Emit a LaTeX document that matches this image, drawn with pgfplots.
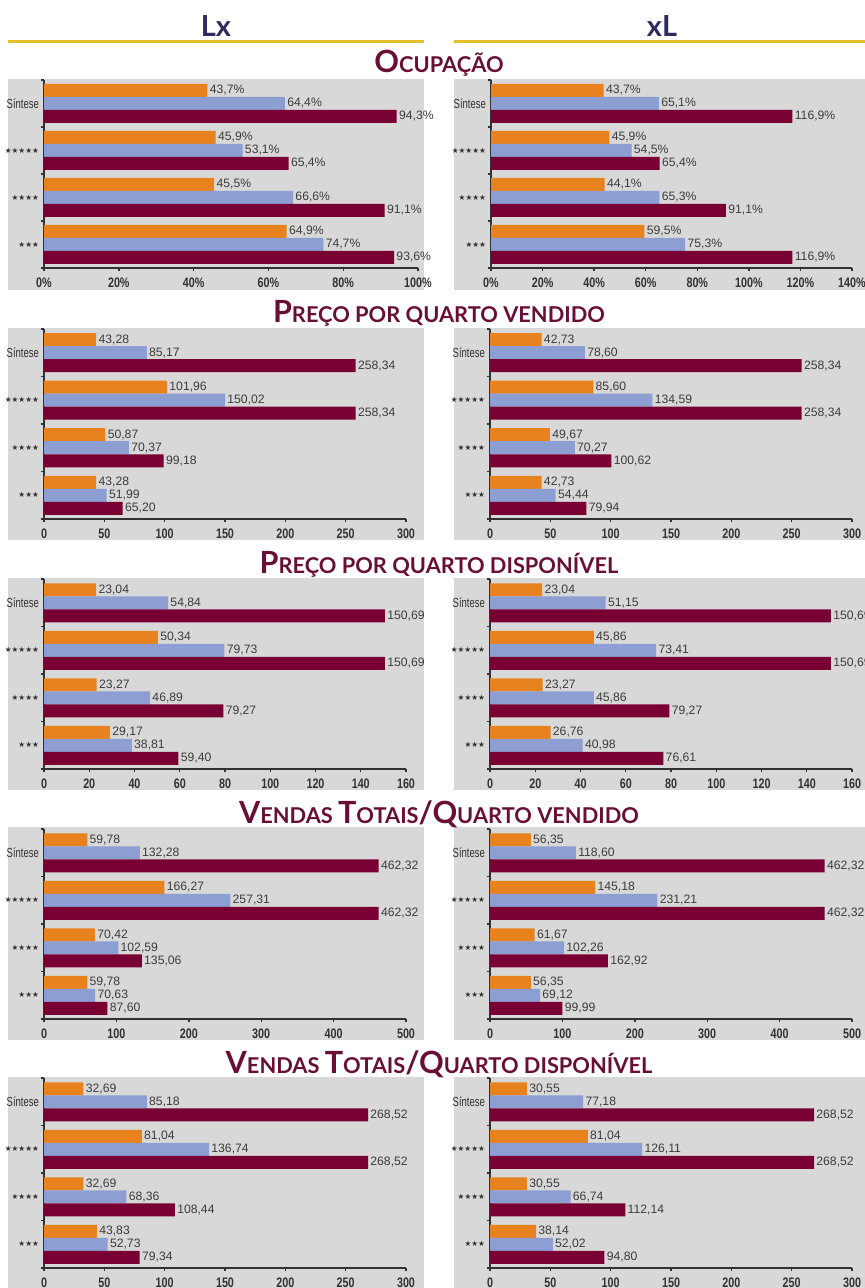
\documentclass[border=0pt]{standalone}
\usepackage{fontspec}
\setmainfont{Liberation Sans}
\newfontfamily\tickfnt[FakeStretch=0.78]{Liberation Sans Bold}
\newfontfamily\catfnt[FakeStretch=0.72]{Liberation Sans}
\newfontfamily\starfnt{DejaVu Sans}
\newfontfamily\titlefnt{Lato Bold}
\usepackage{pgfplots}
\usepackage{pgfplotstable}
\pgfplotsset{compat=1.18}

\definecolor{cOr}{RGB}{232,130,30}
\definecolor{cBl}{RGB}{140,158,210}
\definecolor{cMa}{RGB}{120,0,50}
\definecolor{bgc}{RGB}{216,216,216}
\definecolor{axc}{RGB}{50,50,50}
\definecolor{valc}{RGB}{60,60,60}
\definecolor{ttl}{RGB}{105,15,55}
\definecolor{hdr}{RGB}{45,43,95}
\definecolor{gold}{RGB}{226,190,40}

% c: 3 = Sintese, 2 = 5 estrelas, 1 = 4 estrelas, 0 = 3 estrelas
\pgfplotstableread{
c a b m
3 43.7 64.4 94.3
2 45.9 53.1 65.4
1 45.5 66.6 91.1
0 64.9 74.7 93.6
}\occLx
\pgfplotstableread{
c a b m
3 43.7 65.1 116.9
2 45.9 54.5 65.4
1 44.1 65.3 91.1
0 59.5 75.3 116.9
}\occxL
\pgfplotstableread{
c a b m
3 43.28 85.17 258.34
2 101.96 150.02 258.34
1 50.87 70.37 99.18
0 43.28 51.99 65.20
}\pvLx
\pgfplotstableread{
c a b m
3 42.73 78.60 258.34
2 85.60 134.59 258.34
1 49.67 70.27 100.62
0 42.73 54.44 79.94
}\pvxL
\pgfplotstableread{
c a b m
3 23.04 54.84 150.69
2 50.34 79.73 150.69
1 23.27 46.89 79.27
0 29.17 38.81 59.40
}\pdLx
\pgfplotstableread{
c a b m
3 23.04 51.15 150.69
2 45.86 73.41 150.69
1 23.27 45.86 79.27
0 26.76 40.98 76.61
}\pdxL
\pgfplotstableread{
c a b m
3 59.78 132.28 462.32
2 166.27 257.31 462.32
1 70.42 102.59 135.06
0 59.78 70.63 87.60
}\vvLx
\pgfplotstableread{
c a b m
3 56.35 118.60 462.32
2 145.18 231.21 462.32
1 61.67 102.26 162.92
0 56.35 69.12 99.99
}\vvxL
\pgfplotstableread{
c a b m
3 32.69 85.18 268.52
2 81.04 136.74 268.52
1 32.69 68.36 108.44
0 43.83 52.73 79.34
}\vdLx
\pgfplotstableread{
c a b m
3 30.55 77.18 268.52
2 81.04 126.11 268.52
1 30.55 66.74 112.14
0 38.14 52.02 94.80
}\vdxL

\newcommand{\bars}[1]{%
  \addplot[fill=cOr, draw=none, bar shift=6.5pt] table[x=a, y=c] {#1};
  \addplot[fill=cBl, draw=none, bar shift=0pt] table[x=b, y=c] {#1};
  \addplot[fill=cMa, draw=none, bar shift=-6.5pt] table[x=m, y=c] {#1};
}
\newcommand{\BC}[1]{{\fontsize{15.3}{16}\selectfont #1}}
\newcommand{\SC}[1]{{\fontsize{10.9}{12}\selectfont #1}}

\pgfplotsset{
  pnl/.style={
    xbar, scale only axis, anchor=south west,
    height=95pt, xmin=0, ymin=-0.5, ymax=3.5,
    axis x line*=bottom, axis y line*=left,
    axis line style={draw=axc, line width=0.7pt},
    ytick={0,1,2,3},
    yticklabels={{\starfnt\fontsize{3.8}{4}\selectfont ★★★},
                 {\starfnt\fontsize{3.8}{4}\selectfont ★★★★},
                 {\starfnt\fontsize{3.8}{4}\selectfont ★★★★★},
                 {\catfnt\fontsize{6.6}{7}\selectfont Síntese}},
    minor ytick={-0.5,0.5,1.5,2.5,3.5},
    major tick length=0pt, minor tick length=1.6pt,
    tick align=outside,
    minor tick style={draw=axc, line width=0.7pt},
    bar width=6.5pt,
    clip=false,
    /pgf/number format/assume math mode=true,
    xticklabel style={font=\tickfnt\fontsize{6.9}{7}\selectfont, text=axc, yshift=-1.2pt},
    yticklabel style={text=axc, xshift=1pt},
    nodes near coords={\pgfmathprintnumber[fixed,zerofill,precision=2,use comma]{\pgfplotspointmeta}},
    nodes near coords align={horizontal},
    point meta=x,
    every node near coord/.append style={font=\fontsize{6.1}{7}\selectfont, text=valc, inner sep=1pt, anchor=west},
  },
  pct/.style={
    nodes near coords={\pgfmathprintnumber[fixed,zerofill,precision=1,use comma]{\pgfplotspointmeta}\%},
    xticklabel={\pgfmathprintnumber{\tick}\%},
  },
  xt/.style 2 args={xmax=#2, xtick={0,#1,...,#2}, minor xtick={0,#1,...,#2}},
}

\begin{document}
\begin{tikzpicture}[x=0.5pt, y=0.5pt]
\useasboundingbox (0,0) rectangle (865,-1288);
\foreach \ta/\tb in {79/290,328/540,578/790,827/1040,1077/1288} {
  \fill[bgc] (8,-\ta) rectangle (424,-\tb);
  \fill[bgc] (454,-\ta) rectangle (865,-\tb);
}
\draw[gold, line width=1.5pt] (8,-42) -- (424,-42);
\draw[gold, line width=1.5pt] (454,-42) -- (865,-42);
\node[anchor=base, text=hdr, font=\titlefnt\fontsize{14.5}{15}\selectfont] at (216,-37) {Lx};
\node[anchor=base, text=hdr, font=\titlefnt\fontsize{14.5}{15}\selectfont] at (662,-37) {xL};

\node[anchor=base, text=ttl, font=\titlefnt] at (439,-73) {\BC{O}\SC{CUPAÇÃO}};
\node[anchor=base, text=ttl, font=\titlefnt] at (439,-323) {\BC{P}\SC{REÇO POR QUARTO VENDIDO}};
\node[anchor=base, text=ttl, font=\titlefnt] at (439,-573) {\BC{P}\SC{REÇO POR QUARTO DISPONÍVEL}};
\node[anchor=base, text=ttl, font=\titlefnt] at (439,-823) {\BC{V}\SC{ENDAS }\BC{T}\SC{OTAIS}\BC{/Q}\SC{UARTO VENDIDO}};
\node[anchor=base, text=ttl, font=\titlefnt] at (439,-1073) {\BC{V}\SC{ENDAS }\BC{T}\SC{OTAIS}\BC{/Q}\SC{UARTO DISPONÍVEL}};

% Ocupacao
\begin{axis}[pnl, pct, at={(22pt,-134pt)}, width=187pt, height=94pt, xt={20}{100}]
\bars{\occLx}
\end{axis}
\begin{axis}[pnl, pct, at={(245.5pt,-134pt)}, width=180.5pt, height=94pt, xt={20}{140}]
\bars{\occxL}
\end{axis}
% Preco por quarto vendido
\begin{axis}[pnl, at={(22pt,-259.5pt)}, width=181pt, xt={50}{300}]
\bars{\pvLx}
\end{axis}
\begin{axis}[pnl, at={(245pt,-259.5pt)}, width=181pt, xt={50}{300}]
\bars{\pvxL}
\end{axis}
% Preco por quarto disponivel
\begin{axis}[pnl, at={(22pt,-384.5pt)}, width=181pt, xt={20}{160}]
\bars{\pdLx}
\end{axis}
\begin{axis}[pnl, at={(245pt,-384.5pt)}, width=181pt, xt={20}{160}]
\bars{\pdxL}
\end{axis}
% Vendas totais / quarto vendido
\begin{axis}[pnl, at={(22pt,-509.5pt)}, width=181pt, xt={100}{500}]
\bars{\vvLx}
\end{axis}
\begin{axis}[pnl, at={(245pt,-509.5pt)}, width=181pt, xt={100}{500}]
\bars{\vvxL}
\end{axis}
% Vendas totais / quarto disponivel
\begin{axis}[pnl, at={(22pt,-634pt)}, width=181pt, xt={50}{300}]
\bars{\vdLx}
\end{axis}
\begin{axis}[pnl, at={(245pt,-634pt)}, width=181pt, xt={50}{300}]
\bars{\vdxL}
\end{axis}
\end{tikzpicture}
\end{document}
